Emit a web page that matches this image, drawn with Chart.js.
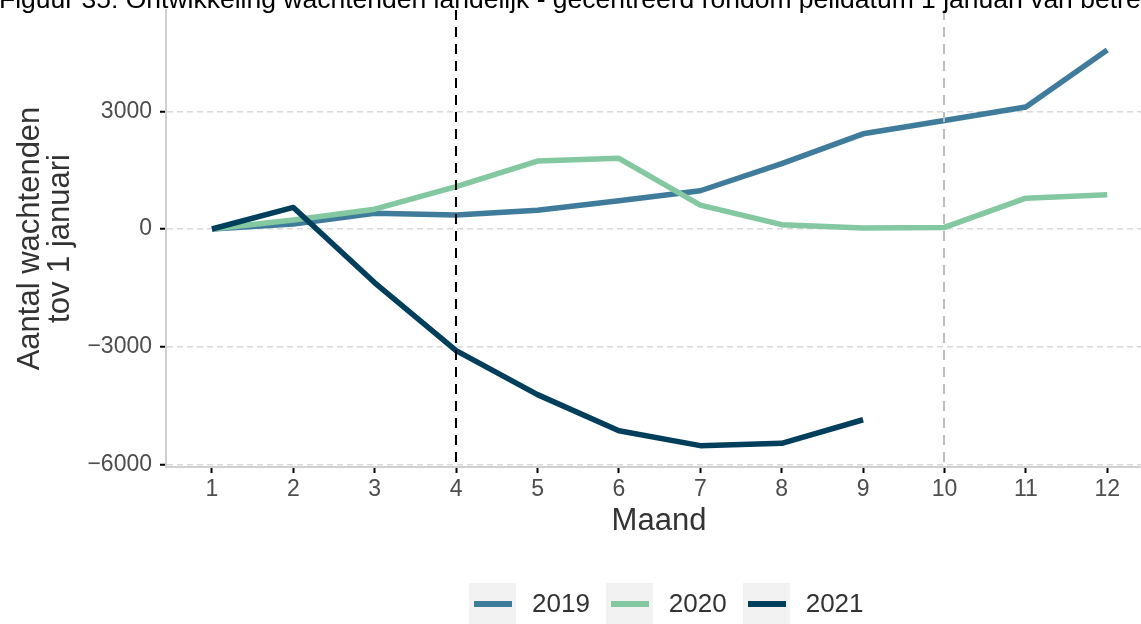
<!DOCTYPE html>
<html>
<head>
<meta charset="utf-8">
<script src="https://cdn.jsdelivr.net/npm/chart.js@4.4.0/dist/chart.umd.min.js"></script>
<style>
  html, body { margin: 0; padding: 0; background: #fff; overflow: hidden; width: 1141px; height: 624px; }
  #wrap { position: relative; width: 1141px; height: 624px; overflow: hidden; }
  #chart { position: absolute; left: 0; top: 0; }
  #title { position: absolute; left: -1px; top: -14px; white-space: nowrap;
           font: 26.5px/26.5px "Liberation Sans", Arial, sans-serif; color: #000; }
  #legend { position: absolute; left: 469px; top: 583px; display: flex; align-items: center;
            font: 26px "Liberation Sans", Arial, sans-serif; color: #333; }
  .key { width: 47px; height: 41px; background: #f2f2f2; position: relative; }
  .key span { position: absolute; left: 5px; top: 18px; width: 38px; height: 6px; }
  .lab { margin: 0 16px; }
</style>
</head>
<body>
<div id="wrap">
  <canvas id="chart" width="1152" height="624"></canvas>
  <div id="title">Figuur 35: Ontwikkeling wachtenden landelijk - gecentreerd rondom peildatum 1 januari van betreffend jaar</div>
  <div id="legend"></div>
</div>
<script>
// ── data ────────────────────────────────────────────────────
var months = [1, 2, 3, 4, 5, 6, 7, 8, 9, 10, 11, 12];
var years = ['2019', '2020', '2021'];
var colors = ['#3f7c9c', '#83c8a0', '#003f5c'];
var v2019 = [0, 130, 400, 355, 480, 720, 975, 1665, 2425, 2765, 3110, 4560];
var v2020 = [0, 230, 505, 1080, 1730, 1800, 610, 110, 25, 40, 785, 870];
var v2021 = [0, 550, -1370, -3100, -4220, -5140, -5520, -5460, -4860];
var yTicks = [-6000, -3000, 0, 3000];
var refLines = [4, 10];
var refColors = ['#000000', '#bebebe'];

var FONT = '"Liberation Sans", Arial, sans-serif';

function toPoints(vals) {
    return vals.map(function (v, i) { return { x: months[i], y: v }; });
}

function fmtY(v) {
    return v < 0 ? '\u2212' + Math.abs(v) : String(v);
}

// vertical dashed reference lines, drawn over the series
var refLinePlugin = {
    id: 'refLines',
    afterDatasetsDraw: function (chart) {
        var ctx = chart.ctx, xs = chart.scales.x, area = chart.chartArea;
        ctx.save();
        ctx.lineWidth = 2;
        ctx.setLineDash([10, 7]);
        refLines.forEach(function (m, i) {
            var px = Math.round(xs.getPixelForValue(m));
            ctx.strokeStyle = refColors[i];
            ctx.beginPath();
            ctx.moveTo(px, area.top);
            ctx.lineTo(px, area.bottom);
            ctx.stroke();
        });
        ctx.restore();
    }
};

var series = [v2019, v2020, v2021];
var datasets = series.map(function (vals, i) {
    return {
        label: years[i],
        data: toPoints(vals),
        borderColor: colors[i],
        backgroundColor: colors[i],
        borderWidth: 5.5,
        borderJoinStyle: 'round',
        pointRadius: 0,
        tension: 0,
        fill: false,
        order: series.length - 1 - i
    };
});

new Chart(document.getElementById('chart'), {
    type: 'line',
    data: { datasets: datasets },
    options: {
        responsive: false,
        animation: false,
        events: [],
        layout: { padding: { top: 10, left: 0, right: 0, bottom: 77 } },
        plugins: {
            legend: { display: false },
            tooltip: { enabled: false },
            title: { display: false }
        },
        scales: {
            x: {
                type: 'linear', min: 0.435, max: 12.55,
                afterBuildTicks: function (s) {
                    s.ticks = months.map(function (m) { return { value: m }; });
                },
                afterFit: function (s) { s.height = 80; s.paddingLeft = 0; s.paddingRight = 0; },
                grid: { drawOnChartArea: false, color: '#000', tickColor: '#000', tickLength: 6, tickWidth: 2 },
                border: { display: true, color: '#d0d0d0', width: 2 },
                ticks: {
                    color: '#4d4d4d', padding: 3, maxRotation: 0, autoSkip: false,
                    font: { family: FONT, size: 23 },
                    callback: function (v) { return String(v); }
                },
                title: {
                    display: true, text: 'Maand', color: '#333',
                    font: { family: FONT, size: 31 },
                    padding: { top: 0, bottom: 7 }
                }
            },
            y: {
                type: 'linear', min: -6064, max: 5580,
                afterBuildTicks: function (s) {
                    s.ticks = yTicks.map(function (v) { return { value: v }; });
                },
                afterFit: function (s) { s.width = 166; s.paddingTop = 0; s.paddingBottom = 0; },
                grid: { color: '#d9d9d9', lineWidth: 1.5, tickColor: '#000', tickLength: 6, tickWidth: 2 },
                border: { display: true, color: '#d0d0d0', width: 2, dash: [6, 4] },
                ticks: {
                    color: '#4d4d4d', padding: 8,
                    font: { family: FONT, size: 23 },
                    callback: fmtY
                },
                title: {
                    display: true, text: ['Aantal wachtenden', 'tov 1 januari'], color: '#333',
                    font: { family: FONT, size: 31, lineHeight: 0.95 },
                    padding: { top: 16, bottom: 0 }
                }
            }
        }
    },
    plugins: [refLinePlugin]
});

// ── legend (grey key boxes like the original) ───────────────
var legend = document.getElementById('legend');
years.forEach(function (y, i) {
    var key = document.createElement('div');
    key.className = 'key';
    var sw = document.createElement('span');
    sw.style.background = colors[i];
    key.appendChild(sw);
    var lab = document.createElement('div');
    lab.className = 'lab';
    lab.textContent = y;
    legend.appendChild(key);
    legend.appendChild(lab);
});
</script>
</body>
</html>
